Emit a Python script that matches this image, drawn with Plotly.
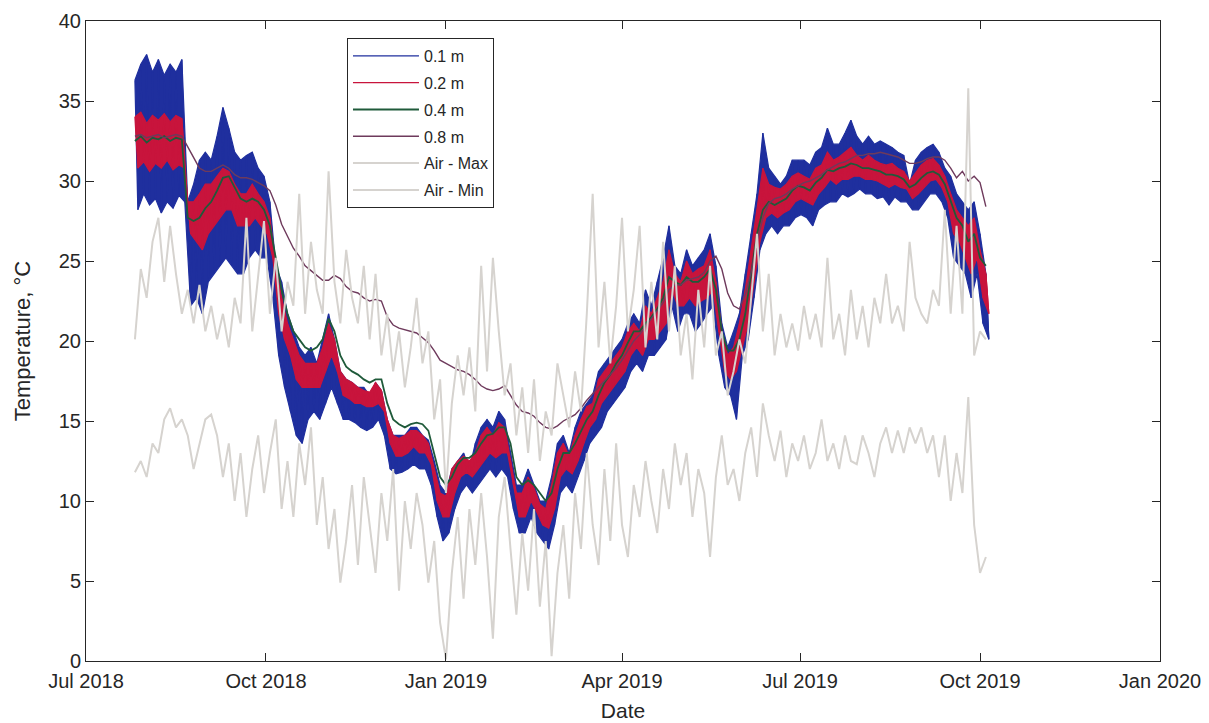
import pandas as pd
import plotly.graph_objects as go

# ---------------- data (3-day steps from 2018-07-26) ----------------
start_date = "2018-07-26"
step_days = 3

t01_max = [36.3, 37.3, 37.9, 36.8, 37.6, 36.6, 37.3, 36.8, 37.6, 28.7,
           29.8, 31.3, 31.8, 31.3, 32.8, 34.6, 33.3, 31.8, 31.3, 31.6,
           31.8, 30.8, 30.3, 28.7, 24.7, 23.7, 21.7, 20.6, 19.6, 19.1,
           19.6, 18.6, 20.1, 21.7, 20.1, 18.1, 17.6, 17.4, 17.1, 17.1,
           16.6, 17.4, 16.9, 15.1, 14.1, 14.1, 14.1, 14.6, 14.6, 14.1,
           13.8, 12.5, 11.0, 10.5, 12.0, 12.5, 13.0, 12.0, 13.6, 14.6,
           15.1, 14.6, 15.6, 15.1, 13.0, 11.0, 11.0, 12.0, 11.0, 10.0,
           10.0, 11.5, 13.6, 14.1, 13.0, 14.6, 15.6, 16.1, 16.6, 18.1,
           18.6, 19.1, 19.6, 20.1, 21.1, 21.7, 21.1, 23.2, 22.2, 23.7,
           25.2, 27.2, 24.7, 24.2, 25.7, 24.7, 25.2, 25.7, 26.7, 24.7,
           21.1, 19.6, 20.6, 21.7, 24.2, 26.7, 29.2, 33.0, 30.8, 30.3,
           29.8, 30.3, 31.3, 31.3, 31.3, 31.0, 31.8, 32.1, 33.3, 32.3,
           32.3, 33.0, 33.8, 32.8, 32.3, 32.8, 32.3, 32.5, 32.3, 32.1,
           31.8, 31.6, 29.8, 31.3, 31.8, 32.1, 32.3, 31.8, 30.8, 30.3,
           29.2, 28.7, 28.2, 28.7, 26.7, 24.2]
t01_min = [28.2, 29.2, 28.5, 28.9, 28.0, 28.7, 28.3, 29.1, 28.7, 22.2,
           22.7, 21.7, 23.7, 24.2, 24.7, 25.2, 24.7, 24.2, 24.2, 25.2,
           25.7, 25.2, 25.2, 22.7, 19.1, 17.1, 15.6, 14.1, 13.6, 15.1,
           15.6, 15.1, 16.1, 17.1, 16.1, 15.1, 15.1, 14.9, 14.6, 14.4,
           14.6, 15.1, 14.1, 12.0, 11.7, 11.8, 12.0, 12.3, 12.0, 12.0,
           11.0, 9.0, 7.5, 8.0, 9.5, 10.5, 11.0, 10.5, 11.0, 11.5,
           12.0, 11.5, 12.0, 11.5, 9.5, 8.0, 8.0, 9.0, 8.0, 7.5,
           7.0, 8.5, 10.5, 11.0, 10.5, 11.5, 12.5, 13.6, 14.1, 14.6,
           15.6, 16.1, 16.6, 17.1, 18.1, 18.6, 18.1, 19.1, 19.1, 19.6,
           20.1, 22.2, 20.6, 21.7, 21.7, 20.6, 21.1, 21.7, 22.2, 19.1,
           17.1, 16.6, 15.1, 19.1, 20.1, 22.7, 25.7, 26.7, 27.2, 26.7,
           27.2, 27.2, 27.7, 27.9, 27.7, 27.2, 28.2, 28.5, 28.7, 28.7,
           29.2, 29.0, 29.2, 29.5, 29.2, 29.2, 28.9, 29.0, 28.5, 29.0,
           28.7, 28.7, 28.2, 28.2, 28.7, 29.2, 29.2, 28.7, 27.7, 25.2,
           24.7, 24.2, 22.7, 24.2, 21.1, 20.1]

t02_max = [34.0, 34.3, 33.6, 34.1, 33.8, 34.2, 33.7, 34.1, 33.9, 28.7,
           28.7, 29.2, 29.8, 29.8, 30.3, 30.8, 30.6, 29.8, 29.2, 29.2,
           29.8, 29.2, 28.7, 27.7, 24.7, 22.7, 21.1, 20.1, 19.1, 18.6,
           18.6, 18.6, 19.6, 21.1, 20.1, 18.1, 17.6, 17.4, 17.1, 16.9,
           16.8, 17.4, 16.9, 15.1, 14.1, 13.9, 14.1, 14.4, 14.4, 14.1,
           13.6, 12.0, 10.5, 10.3, 12.0, 12.5, 12.8, 12.5, 13.0, 14.1,
           14.6, 14.1, 14.9, 14.6, 12.5, 10.5, 10.5, 11.5, 10.8, 9.8,
           9.5, 11.0, 13.0, 13.6, 12.8, 14.1, 15.1, 15.9, 16.1, 17.6,
           18.1, 18.6, 19.1, 19.6, 20.6, 21.1, 20.6, 22.2, 21.7, 22.7,
           23.7, 25.7, 24.2, 23.7, 25.0, 24.2, 24.5, 24.7, 25.7, 23.7,
           20.6, 19.1, 19.6, 21.1, 23.2, 25.7, 28.2, 30.8, 29.8, 29.6,
           29.5, 29.8, 30.3, 30.5, 30.3, 30.1, 30.8, 31.0, 31.8, 31.3,
           31.5, 31.8, 32.1, 31.6, 31.3, 31.6, 31.3, 31.1, 31.0, 31.1,
           30.8, 30.6, 30.0, 30.5, 31.0, 31.3, 31.4, 31.0, 30.3, 29.2,
           28.2, 27.7, 27.2, 27.7, 25.7, 24.2]
t02_min = [30.8, 31.2, 30.6, 31.1, 30.8, 31.3, 30.7, 31.0, 30.8, 26.7,
           26.2, 25.7, 26.7, 27.2, 27.7, 28.2, 28.2, 27.2, 27.2, 27.2,
           27.7, 27.2, 26.7, 25.2, 21.7, 20.1, 19.1, 17.6, 17.1, 17.1,
           17.1, 17.1, 18.1, 19.1, 18.1, 16.6, 16.4, 16.1, 16.1, 15.9,
           15.9, 16.1, 15.6, 13.6, 12.8, 12.8, 13.0, 13.4, 13.0, 13.0,
           12.3, 10.0, 9.0, 9.0, 10.5, 11.5, 11.8, 11.5, 12.0, 12.5,
           13.0, 12.7, 13.0, 13.0, 11.0, 9.0, 9.0, 10.0, 9.3, 8.5,
           8.3, 9.5, 11.5, 12.0, 11.7, 12.5, 13.6, 14.6, 15.1, 16.1,
           16.6, 17.1, 17.6, 18.1, 19.1, 19.6, 19.1, 20.1, 20.1, 20.6,
           21.1, 23.2, 22.2, 22.2, 22.7, 22.2, 22.5, 22.7, 23.2, 20.6,
           18.1, 17.6, 18.1, 19.6, 21.1, 23.7, 26.2, 27.7, 28.0, 27.7,
           28.0, 28.2, 28.7, 28.9, 28.7, 28.5, 29.2, 29.6, 30.1, 29.8,
           30.1, 30.1, 30.3, 30.3, 30.1, 30.1, 30.0, 29.8, 29.6, 29.8,
           29.6, 29.5, 28.9, 29.2, 29.6, 30.0, 30.1, 29.6, 28.7, 26.7,
           26.2, 25.2, 24.2, 25.2, 22.7, 21.7]

t04 = [32.5, 32.8, 32.4, 32.7, 32.6, 32.8, 32.5, 32.7, 32.6, 27.7,
       27.5, 27.7, 28.3, 28.7, 29.4, 30.2, 30.3, 29.6, 28.9, 28.7,
       28.9, 28.7, 28.2, 27.2, 25.2, 23.2, 21.7, 20.6, 20.1, 19.6,
       19.4, 19.6, 20.1, 21.4, 20.6, 19.1, 18.4, 18.1, 17.9, 17.6,
       17.4, 17.6, 17.6, 16.1, 15.1, 14.8, 14.6, 14.8, 14.9, 14.8,
       14.4, 13.0, 11.5, 11.0, 11.5, 12.3, 12.7, 12.7, 13.0, 13.6,
       14.1, 14.2, 14.6, 14.6, 13.6, 11.5, 11.0, 11.3, 11.0, 10.5,
       10.0, 10.5, 12.0, 13.0, 13.0, 13.6, 14.4, 15.1, 15.6, 16.6,
       17.4, 17.9, 18.6, 19.1, 19.9, 20.6, 20.6, 21.1, 21.5, 22.0,
       22.7, 24.0, 23.7, 23.5, 24.0, 23.7, 23.7, 24.0, 24.5, 23.2,
       20.6, 19.4, 19.4, 20.1, 21.7, 24.2, 26.7, 28.2, 28.7, 28.5,
       28.7, 28.9, 29.4, 29.7, 29.6, 29.4, 29.9, 30.2, 30.7, 30.6,
       30.8, 30.9, 31.1, 31.0, 30.8, 30.8, 30.7, 30.6, 30.4, 30.4,
       30.3, 30.1, 29.6, 29.8, 30.2, 30.5, 30.6, 30.4, 29.8, 28.7,
       27.7, 27.2, 26.2, 26.7, 25.2, 24.7]

t08 = [32.8, 32.9, 32.7, 32.8, 32.9, 32.7, 32.8, 32.9, 32.8, 32.1,
       31.4, 30.8, 30.6, 30.6, 30.8, 31.0, 30.8, 30.4, 30.2, 30.2,
       30.1, 29.9, 29.7, 29.4, 28.5, 27.3, 26.5, 25.8, 25.3, 24.7,
       24.4, 24.1, 23.8, 23.8, 24.1, 23.9, 23.4, 23.1, 23.0, 22.7,
       22.5, 22.6, 22.5, 21.5, 21.0, 20.8, 20.7, 20.6, 20.5, 20.2,
       19.9, 19.4, 18.8, 18.6, 18.4, 18.2, 18.1, 17.9, 17.6, 17.2,
       17.0, 16.9, 17.0, 17.2, 16.6, 16.0, 15.6, 15.5, 15.3, 14.9,
       14.6, 14.5, 14.7, 15.0, 15.2, 15.4, 15.8, 16.3, 16.7, 17.1,
       17.5, 17.9, 18.3, 18.8, 19.4, 20.0, 20.4, 20.9, 21.4, 21.9,
       22.4, 23.2, 23.5, 23.5, 23.8, 23.9, 24.0, 24.3, 25.0, 25.3,
       24.5, 23.0, 22.2, 22.0, 22.9, 24.3, 26.2, 27.7, 28.6, 28.9,
       29.0, 29.2, 29.5, 29.7, 29.9, 30.0, 30.2, 30.4, 30.7, 30.9,
       31.1, 31.2, 31.4, 31.6, 31.6, 31.7, 31.7, 31.8, 31.7, 31.6,
       31.5, 31.3, 31.1, 31.1, 31.2, 31.4, 31.5, 31.5, 31.3, 30.8,
       30.2, 30.6, 30.0, 30.3, 29.9, 28.4]

air_max = [20.1, 24.5, 22.7, 26.2, 27.7, 23.7, 27.2, 24.2, 21.7, 23.2,
           21.1, 23.5, 20.6, 22.2, 20.1, 21.7, 19.6, 22.7, 21.1, 27.7,
           20.6, 24.2, 27.5, 21.7, 25.2, 20.6, 23.7, 22.2, 29.2, 21.7,
           26.2, 23.2, 21.7, 30.6, 23.7, 21.1, 25.7, 22.7, 21.1, 24.7,
           20.1, 24.2, 19.1, 21.7, 18.1, 20.6, 17.1, 19.6, 22.7, 18.6,
           20.6, 15.1, 17.6, 10.5, 16.1, 19.1, 16.6, 19.6, 15.6, 24.7,
           18.1, 25.2, 20.6, 16.6, 18.6, 14.1, 17.1, 13.0, 17.6, 12.5,
           15.6, 14.1, 18.6, 16.6, 14.6, 18.1, 15.6, 21.7, 29.2, 19.6,
           23.7, 18.6, 22.2, 27.7, 20.6, 23.2, 27.2, 19.6, 23.7, 20.1,
           26.2, 20.6, 24.7, 19.1, 21.7, 17.6, 23.2, 19.6, 24.7, 19.1,
           20.6, 16.6, 18.1, 20.1, 18.6, 22.7, 26.7, 20.6, 24.2, 19.1,
           21.7, 19.6, 21.1, 19.4, 22.2, 20.1, 21.7, 19.6, 25.2, 20.1,
           21.7, 19.1, 23.2, 20.1, 22.2, 19.6, 22.7, 21.1, 24.2, 21.1,
           22.2, 20.6, 26.2, 22.7, 21.7, 21.1, 23.2, 22.2, 28.2, 21.7,
           27.2, 21.7, 35.8, 19.1, 20.6, 20.1]
air_min = [11.8, 12.5, 11.5, 13.6, 13.0, 15.1, 15.8, 14.6, 15.1, 14.1,
           12.0, 13.6, 15.1, 15.4, 14.1, 11.5, 13.6, 10.0, 13.0, 9.0,
           12.0, 14.1, 10.5, 13.0, 15.1, 9.5, 12.5, 9.0, 13.6, 11.0,
           14.6, 8.5, 11.5, 7.0, 9.5, 4.9, 7.5, 11.0, 6.0, 11.5,
           8.5, 5.5, 10.5, 7.5, 12.0, 4.4, 10.0, 7.0, 10.5, 8.5,
           4.9, 7.5, 2.4, 0.1, 5.5, 9.0, 3.9, 9.5, 6.0, 10.5,
           6.5, 1.4, 9.0, 11.5, 7.0, 2.9, 8.0, 4.4, 9.5, 3.4,
           7.5, 0.3, 5.5, 8.5, 3.9, 10.5, 7.0, 13.0, 8.5, 6.0,
           12.0, 7.5, 13.6, 8.5, 6.5, 11.0, 9.0, 12.5, 10.0, 8.0,
           12.0, 9.5, 13.6, 11.0, 13.0, 9.0, 12.0, 10.5, 6.5, 11.5,
           14.1, 11.0, 12.0, 10.0, 13.0, 14.6, 11.5, 16.1, 14.1, 12.5,
           14.4, 11.5, 13.6, 12.5, 14.1, 12.0, 13.0, 15.1, 12.5, 13.6,
           12.0, 14.1, 12.5, 12.3, 14.1, 13.0, 11.5, 13.6, 14.6, 13.0,
           14.4, 13.0, 14.6, 13.6, 14.6, 13.0, 14.1, 11.5, 14.1, 10.0,
           13.0, 10.5, 16.5, 8.5, 5.5, 6.5]

x_ticks = ["2018-07-01", "2018-10-01", "2019-01-01", "2019-04-01",
           "2019-07-01", "2019-10-01", "2020-01-01"]
x_tick_labels = ["Jul 2018", "Oct 2018", "Jan 2019", "Apr 2019",
                 "Jul 2019", "Oct 2019", "Jan 2020"]
y_ticks = [0, 5, 10, 15, 20, 25, 30, 35, 40]

# ---------------- build ----------------
dates = list(pd.date_range(start_date, periods=len(t08), freq=f"{step_days}D"))
half = pd.Timedelta(hours=36)
dates_lo = [d + half for d in dates]

BLUE = "#1f2f9e"
RED = "#c8143c"
GREEN = "#1f5a3a"
PURPLE = "#6e3a5c"
GRAY = "#d6d3cf"
INK = "#262626"
FONT = "Liberation Sans, Arial, sans-serif"

fig = go.Figure()


def add_band(hi, lo, name, color, group):
    # filled daily-range band (envelope of the diurnal cycle)
    fig.add_trace(go.Scatter(
        x=dates + dates_lo[::-1], y=hi + lo[::-1], mode="lines",
        fill="toself", fillcolor=color, line=dict(color=color, width=1.2),
        showlegend=False, legendgroup=group, hoverinfo="skip"))
    # the diurnal swing itself (max -> min -> max ...)
    xs, ys = [], []
    for d, dl, a, b in zip(dates, dates_lo, hi, lo):
        xs += [d, dl]
        ys += [a, b]
    fig.add_trace(go.Scatter(x=xs, y=ys, mode="lines", name=name,
                             legendgroup=group,
                             line=dict(color=color, width=1.2)))


add_band(t01_max, t01_min, "0.1 m", BLUE, "g1")
add_band(t02_max, t02_min, "0.2 m", RED, "g2")
fig.add_trace(go.Scatter(x=dates, y=t04, mode="lines", name="0.4 m", legendgroup="g3",
                         line=dict(color=GREEN, width=1.8)))
fig.add_trace(go.Scatter(x=dates, y=t08, mode="lines", name="0.8 m", legendgroup="g4",
                         line=dict(color=PURPLE, width=1.4)))
fig.add_trace(go.Scatter(x=dates, y=air_max, mode="lines", name="Air - Max", legendgroup="g5",
                         line=dict(color=GRAY, width=2)))
fig.add_trace(go.Scatter(x=dates, y=air_min, mode="lines", name="Air - Min", legendgroup="g6",
                         line=dict(color=GRAY, width=2)))

fig.update_layout(
    width=1209, height=723,
    margin=dict(l=78, r=57, t=13, b=70, autoexpand=False),
    paper_bgcolor="white", plot_bgcolor="white",
    font=dict(family=FONT, size=20, color=INK),
    showlegend=True,
    legend=dict(x=0.2430, y=0.9734, xanchor="left", yanchor="top",
                bgcolor="white", bordercolor=INK, borderwidth=1,
                font=dict(family=FONT, size=16, color=INK),
                itemwidth=66, tracegroupgap=3, traceorder="grouped"),
)
fig.update_xaxes(
    range=[x_ticks[0], x_ticks[-1]],
    tickvals=x_ticks, ticktext=x_tick_labels,
    ticks="inside", ticklen=8, tickcolor=INK,
    showline=True, linecolor=INK, linewidth=1, mirror="allticks",
    showgrid=False, zeroline=False, ticklabelstandoff=2,
    tickfont=dict(family=FONT, size=20, color=INK),
    title=dict(text="Date", font=dict(family=FONT, size=21, color=INK), standoff=12),
)
fig.update_yaxes(
    range=[0, 40], tickvals=y_ticks,
    ticks="inside", ticklen=8, tickcolor=INK,
    showline=True, linecolor=INK, linewidth=1, mirror="allticks",
    showgrid=False, zeroline=False,
    tickfont=dict(family=FONT, size=20, color=INK),
    title=dict(text="Temperature, °C", font=dict(family=FONT, size=22, color=INK), standoff=22),
)

fig.write_html("out.html")
